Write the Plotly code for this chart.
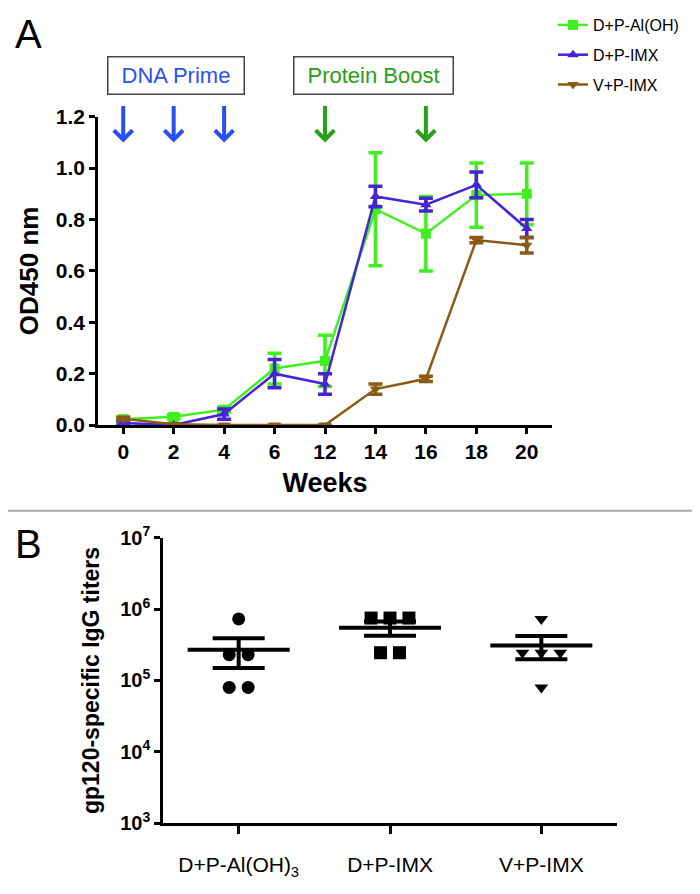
import plotly.graph_objects as go
import statistics

# ---------------- Panel A data ----------------
weeks = ["0", "2", "4", "6", "12", "14", "16", "18", "20"]
alum_mean = [0.023, 0.032, 0.06, 0.22, 0.25, 0.84, 0.745, 0.895, 0.90]
alum_err = [0.008, 0.008, 0.01, 0.06, 0.10, 0.22, 0.145, 0.125, 0.12]
imx_mean = [0.008, 0.0, 0.043, 0.20, 0.16, 0.89, 0.858, 0.935, 0.765]
imx_err = [0.008, 0.004, 0.02, 0.055, 0.04, 0.04, 0.025, 0.05, 0.035]
vimx_mean = [0.025, 0.003, 0.0, 0.0, 0.0, 0.14, 0.18, 0.72, 0.70]
vimx_err = [0.005, 0.0, 0.0, 0.0, 0.0, 0.02, 0.01, 0.01, 0.03]
series_names = ["D+P-Al(OH)", "D+P-IMX", "V+P-IMX"]
prime_weeks = ["0", "2", "4"]
boost_weeks = ["12", "16"]
a_yticks = [0.0, 0.2, 0.4, 0.6, 0.8, 1.0, 1.2]

# ---------------- Panel B data ----------------
groups = ["D+P-Al(OH)<sub>3</sub>", "D+P-IMX", "V+P-IMX"]
titers_alum = [7.3e5, 2.3e5, 2.3e5, 8.0e4, 8.0e4]
titers_imx = [7.5e5, 7.5e5, 7.5e5, 2.45e5, 2.45e5]
titers_vimx = [7.3e5, 2.45e5, 2.45e5, 2.45e5, 8.0e4]
b_ytick_exp = [3, 4, 5, 6, 7]

PAGE_OFF = 8  # browser body margin
W, H = 700 - PAGE_OFF, 894 - PAGE_OFF
FONT = "Arial, Liberation Sans, sans-serif"
green = "#3FF01E"
purple = "#4722D6"
brown = "#8B5A16"
blue_txt = "#2B50F2"
green_txt = "#28A018"


def px_x(p):
    return (p - PAGE_OFF) / W


def px_y(p):
    return 1 - (p - PAGE_OFF) / H


fig = go.Figure()

# Panel A traces
for name, m, e, col, sym in [
    (series_names[0], alum_mean, alum_err, green, "square"),
    (series_names[1], imx_mean, imx_err, purple, "triangle-up"),
    (series_names[2], vimx_mean, vimx_err, brown, "triangle-down"),
]:
    fig.add_trace(go.Scatter(
        x=weeks, y=m, name=name, mode="lines+markers",
        line=dict(color=col, width=2.5),
        marker=dict(color=col, symbol=sym, size=10),
        error_y=dict(type="data", array=e, visible=True, color=col, thickness=3.5, width=7),
        cliponaxis=False, legendgroup=name,
        xaxis="x", yaxis="y",
    ))

# Panel B traces
symbols_b = ["circle", "square", "triangle-down"]
for gi, (vals, sym) in enumerate(zip([titers_alum, titers_imx, titers_vimx], symbols_b)):
    counts = {}
    for v in vals:
        counts[v] = counts.get(v, 0) + 1
    seen = {}
    xs = []
    for v in vals:
        k = seen.get(v, 0)
        seen[v] = k + 1
        xs.append(gi + (k - (counts[v] - 1) / 2) * 0.125)
    fig.add_trace(go.Scatter(
        x=xs, y=vals, mode="markers", showlegend=False,
        marker=dict(color="black", symbol=sym, size=13 if sym != "triangle-down" else 12),
        xaxis="x2", yaxis="y2", cliponaxis=False,
    ))
    mean = sum(vals) / len(vals)
    sem = statistics.stdev(vals) / len(vals) ** 0.5
    fig.add_trace(go.Scatter(
        x=[gi - 0.337, gi + 0.337], y=[mean, mean], mode="lines", showlegend=False,
        line=dict(color="black", width=4), xaxis="x2", yaxis="y2",
    ))
    fig.add_trace(go.Scatter(
        x=[gi], y=[mean], mode="markers", showlegend=False,
        marker=dict(size=1, color="rgba(0,0,0,0)"),
        error_y=dict(type="data", array=[sem], visible=True, color="black", thickness=4, width=26),
        xaxis="x2", yaxis="y2",
    ))

annotations = []
for wk in prime_weeks + boost_weeks:
    col = blue_txt if wk in prime_weeks else green_txt
    annotations.append(dict(
        x=weeks.index(wk), y=1.10, xref="x", yref="y", text="", showarrow=True,
        ax=0, ay=-38, arrowhead=4, arrowwidth=4, arrowsize=0.9, arrowcolor=col,
    ))
annotations.append(dict(
    x=px_x(175.5), y=px_y(74), xref="paper", yref="paper", text="DNA Prime",
    showarrow=False, font=dict(family=FONT, size=22, color=blue_txt),
    bordercolor="#444444", borderwidth=1.5, width=133, height=34,
    xanchor="center", yanchor="middle",
))
annotations.append(dict(
    x=px_x(373), y=px_y(74), xref="paper", yref="paper", text="Protein Boost",
    showarrow=False, font=dict(family=FONT, size=22, color=green_txt),
    bordercolor="#444444", borderwidth=1.5, width=156, height=34,
    xanchor="center", yanchor="middle",
))
annotations.append(dict(x=px_x(13), y=px_y(32), xref="paper", yref="paper", text="A",
                        showarrow=False, font=dict(family=FONT, size=40, color="black"),
                        xanchor="left", yanchor="middle"))
annotations.append(dict(x=px_x(13), y=px_y(543), xref="paper", yref="paper", text="B",
                        showarrow=False, font=dict(family=FONT, size=40, color="black"),
                        xanchor="left", yanchor="middle"))

shapes = [dict(type="line", xref="paper", yref="paper", x0=0, x1=1,
               y0=px_y(510), y1=px_y(510), line=dict(color="#AAAAAA", width=2))]

axis_common = dict(showline=True, linecolor="black", linewidth=2.5, ticks="outside",
                   tickwidth=2.5, ticklen=6, tickcolor="black", showgrid=False,
                   zeroline=False, automargin=False)
bold_tick = dict(size=21, weight="bold", family=FONT)

fig.update_layout(
    width=W, height=H, margin=dict(l=0, r=0, t=0, b=0),
    paper_bgcolor="white", plot_bgcolor="white",
    font=dict(family=FONT, color="black"),
    xaxis=dict(domain=[px_x(98), px_x(552)], type="category", range=[-0.5, 8.5],
               anchor="y", tickfont=bold_tick, ticklabelstandoff=0,
               title=dict(text="Weeks", font=dict(size=27, weight="bold"), standoff=12),
               **axis_common),
    yaxis=dict(domain=[px_y(424), px_y(115)], range=[0, 1.2], anchor="x",
               tickvals=a_yticks, ticktext=[f"{v:.1f}" for v in a_yticks],
               tickfont=bold_tick,
               title=dict(text="OD450 nm", font=dict(size=26, weight="bold"), standoff=10),
               **axis_common),
    xaxis2=dict(domain=[px_x(163), px_x(617)], range=[-0.5, 2.5], anchor="y2",
                tickvals=[0, 1, 2], ticktext=groups, tickfont=dict(size=21, family=FONT),
                ticklabelstandoff=13, **{**axis_common, "ticklen": 8}),
    yaxis2=dict(domain=[px_y(823), px_y(537)], type="log", range=[3, 7], anchor="x2",
                tickvals=[10 ** e for e in b_ytick_exp],
                ticktext=[f"10<sup>{e}</sup>" for e in b_ytick_exp],
                tickfont=dict(size=20, weight="bold", family=FONT),
                title=dict(text="gp120-specific IgG titers", font=dict(size=23, weight="bold"),
                           standoff=15),
                **axis_common),
    legend=dict(x=px_x(553), y=px_y(6), xanchor="left", yanchor="top",
                bgcolor="rgba(0,0,0,0)", font=dict(size=16), tracegroupgap=6,
                traceorder="grouped", itemwidth=30),
    annotations=annotations, shapes=shapes,
)

fig.write_html("out.html")
